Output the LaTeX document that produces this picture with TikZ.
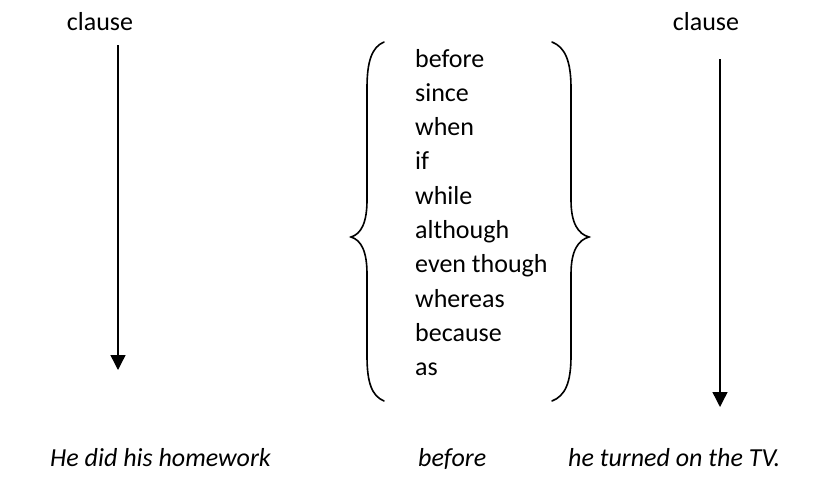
\documentclass[tikz,border=0pt]{standalone}
\usepackage{fontspec}
\setmainfont{Carlito}
\usetikzlibrary{arrows.meta}
\begin{document}
\begin{tikzpicture}[x=1pt,y=-1pt,
  label/.style={font=\fontsize{26}{30}\selectfont, inner sep=0pt},
  example/.style={font=\fontsize{26}{30}\selectfont\itshape, inner sep=0pt, anchor=base west},
  word/.style={font=\fontsize{26}{30}\selectfont, inner sep=0pt, anchor=base west},
  pointer/.style={line width=1.4pt, -{Triangle[length=15pt,width=15pt]}},
  bracket/.style={line width=1.6pt, line cap=round}]
\useasboundingbox (0,0) rectangle (822,498);

% clause labels
\node[label] (cl) at (100,22) {clause};
\node[label] (cr) at (706,22) {clause};

% arrow ends
\coordinate (la0) at (118,45);
\coordinate (la1) at (118,370);
\coordinate (ra0) at (720,59);
\coordinate (ra1) at (720,407);
\draw[pointer] (la0) -- (la1);
\draw[pointer] (ra0) -- (ra1);

% list of conjunctions
\foreach \w [count=\i] in {before,since,when,if,while,although,even though,whereas,because,as}
  \node[word] (w\i) at (415,{67+(\i-1)*34.3}) {\w};

% braces
\coordinate (lbt) at (384,42);
\coordinate (lbm) at (351,237);
\coordinate (lbb) at (384,401);
\coordinate (rbt) at (552,42);
\coordinate (rbm) at (589,237);
\coordinate (rbb) at (552,401);
\draw[bracket] (lbt) .. controls (372,47) and (367,61) .. (367,88)
  -- (367,200) .. controls (367,223) and (361,234) .. (lbm)
  .. controls (361,240) and (367,251) .. (367,274)
  -- (367,356) .. controls (367,383) and (372,396) .. (lbb);
\draw[bracket] (rbt) .. controls (565,47) and (571,61) .. (571,88)
  -- (571,200) .. controls (571,223) and (578,234) .. (rbm)
  .. controls (578,240) and (571,251) .. (571,274)
  -- (571,356) .. controls (571,383) and (565,396) .. (rbb);

% example sentence
\node[example] (s1) at (50,466) {He did his homework};
\node[example] (s2) at (418,466) {before};
\node[example] (s3) at (568,466) {he turned on the TV.};
\end{tikzpicture}
\end{document}
